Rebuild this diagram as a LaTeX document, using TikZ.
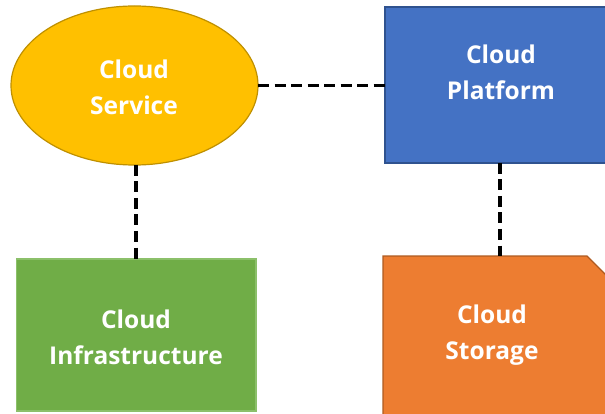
\documentclass[tikz,border=0pt]{standalone}
\usepackage{fontspec}
\setmainfont{Open Sans}
\usetikzlibrary{shapes.geometric}
\definecolor{gold}{HTML}{FFC000}
\definecolor{goldb}{HTML}{BF9000}
\definecolor{blu}{HTML}{4472C4}
\definecolor{blub}{HTML}{2F528F}
\definecolor{grn}{HTML}{70AD47}
\definecolor{grnb}{HTML}{8CC06A}
\definecolor{org}{HTML}{ED7D31}
\definecolor{orgb}{HTML}{AE5A21}
\begin{document}
\begin{tikzpicture}[x=1pt,y=-1pt,
  lbl/.style={text=white,font=\bfseries\fontsize{24.5}{36}\selectfont,align=center,inner sep=0pt},
  link/.style={line width=3.3pt,dash pattern=on 11pt off 5.5pt},
  shapebox/.style={line width=1.2pt,inner sep=0pt,outer sep=0pt}]
\useasboundingbox (0,0) rectangle (605,414);
\begin{scope}
\clip (0,0) rectangle (605,414);
\node[ellipse,shapebox,fill=gold,draw=goldb,minimum width=247,minimum height=159] (svc) at (134.5,85.5) {};
\node[rectangle,shapebox,fill=blu,draw=blub,minimum width=232,minimum height=156,anchor=north west] (plat) at (385,7) {};
\node[rectangle,shapebox,fill=grn,draw=grnb,minimum width=239.5,minimum height=152,anchor=north west] (infra) at (16.5,259) {};
\draw[shapebox,fill=org,draw=orgb] (383,256) -- (587,256) -- (620,289) -- (620,430) -- (383,430) -- cycle;
\coordinate (stor) at (500,256);
\coordinate (svcb) at ([xshift=1.5pt]svc.south);
\end{scope}
\node[lbl,anchor=base] (tsvc) at (134,115) {Cloud\\Service};
\node[lbl,anchor=base] (tplat) at (501,100) {Cloud\\Platform};
\node[lbl,anchor=base] (tinfra) at (136,364) {Cloud\\Infrastructure};
\node[lbl,anchor=base] (tstor) at (492,359) {Cloud\\Storage};
\draw[link] (svc.east) -- (plat.west |- svc.east);
\draw[link] (svcb) -- (infra.north -| svcb);
\draw[link] (plat.south -| stor) -- (stor);
\end{tikzpicture}
\end{document}
